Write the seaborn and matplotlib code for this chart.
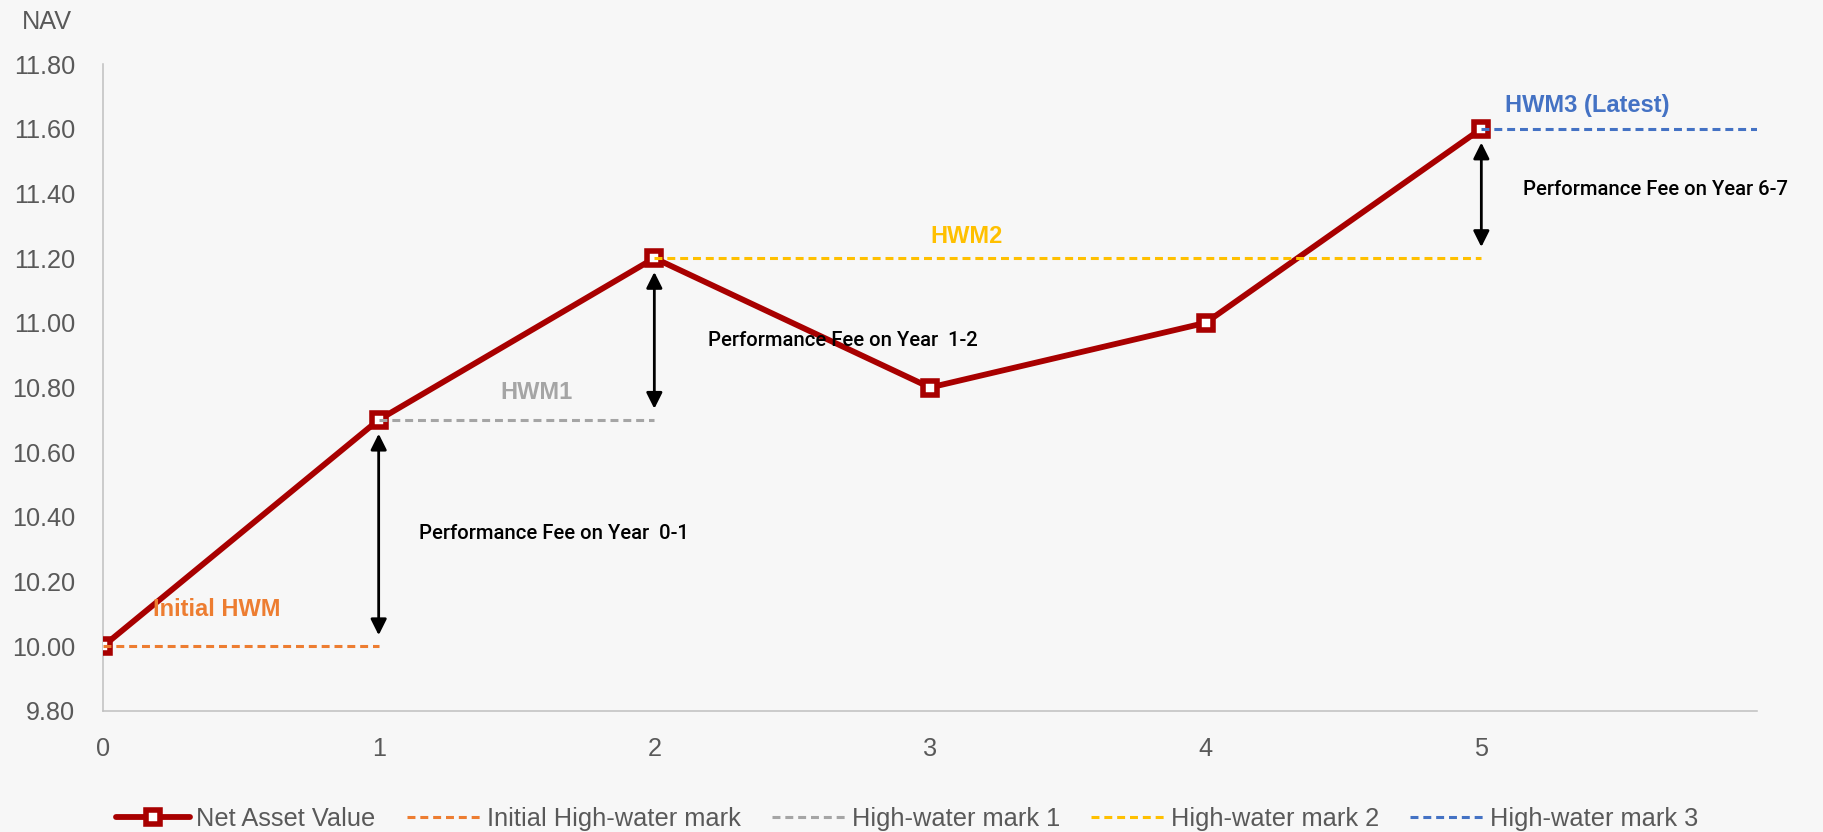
import numpy as np
import pandas as pd
import matplotlib
matplotlib.use("Agg")
import matplotlib.pyplot as plt
import seaborn as sns

# ---------------- data ----------------
years = [0, 1, 2, 3, 4, 5]
nav = [10.00, 10.70, 11.20, 10.80, 11.00, 11.60]

hwm_names = ["Initial High-water mark", "High-water mark 1", "High-water mark 2", "High-water mark 3"]
hwm_x = [[0, 1], [1, 2], [2, 5], [5, 6]]
hwm_y = [10.00, 10.70, 11.20, 11.60]
hwm_colors = ["#ED7D31", "#A5A5A5", "#FFC000", "#4472C4"]

hwm_labels = ["Initial HWM", "HWM1", "HWM2", "HWM3 (Latest)"]
hwm_label_pos = [(0.18, 10.115), (1.44, 10.783), (3.0, 11.268), (5.087, 11.673)]

fee_texts = ["Performance Fee on Year  0-1", "Performance Fee on Year  1-2", "Performance Fee on Year 6-7"]
fee_pos = [(1.146, 10.35), (2.194, 10.945), (5.152, 11.412)]
fee_years = [1, 2, 5]
fee_low = [10.00, 10.70, 11.20]
fee_high = [10.70, 11.20, 11.60]

y_ticks = [9.80, 10.00, 10.20, 10.40, 10.60, 10.80, 11.00, 11.20, 11.40, 11.60, 11.80]
x_ticks = [0, 1, 2, 3, 4, 5]

# ---------------- style ----------------
sns.set_style("white")
plt.rcParams["font.family"] = ["Liberation Sans", "DejaVu Sans"]

BG = "#F7F7F7"
TXT = "#595959"
NAVC = "#A80000"

fig = plt.figure(figsize=(18.24, 8.32), dpi=100, facecolor=BG)
ax = fig.add_axes([103 / 1824, 1 - 711 / 832, (1757 - 103) / 1824, (711 - 64) / 832])
ax.set_facecolor("none")

df_nav = pd.DataFrame({"Year": years, "NAV": nav})
sns.lineplot(data=df_nav, x="Year", y="NAV", ax=ax, color=NAVC, lw=4.2,
             marker="s", markersize=9.7, markeredgewidth=4.0,
             markerfacecolor="white", markeredgecolor=NAVC,
             label="Net Asset Value", zorder=3)

for name, xs, yv, c in zip(hwm_names, hwm_x, hwm_y, hwm_colors):
    d = pd.DataFrame({"Year": xs, "NAV": [yv] * len(xs)})
    sns.lineplot(data=d, x="Year", y="NAV", ax=ax, color=c, lw=2.2,
                 linestyle=(0, (2.6, 1.6)), label=name, zorder=4)

# HWM labels
for txt, (x, y), c in zip(hwm_labels, hwm_label_pos, hwm_colors):
    ax.text(x, y, txt, color=c, fontsize=17, fontweight="bold", ha="left", va="center")

# performance fee texts
for txt, (x, y) in zip(fee_texts, fee_pos):
    ax.text(x, y, txt, color="black", fontsize=14.6, ha="left", va="center",
            family=["Roboto", "Liberation Sans", "DejaVu Sans"], fontweight="medium")

# arrows
for x, lo, hi in zip(fee_years, fee_low, fee_high):
    ax.annotate("", xy=(x, hi), xytext=(x, lo),
                arrowprops=dict(arrowstyle="<|-|>", color="black", lw=2,
                                mutation_scale=24, shrinkA=8, shrinkB=10))

# axes
ax.set_xlim(0, 6)
ax.set_ylim(9.8, 11.8)
ax.set_xticks(x_ticks)
ax.set_xticklabels([str(v) for v in x_ticks])
ax.set_yticks(y_ticks)
ax.set_yticklabels([f"{v:.2f}" for v in y_ticks])
ax.tick_params(axis="both", length=0, labelsize=18.2, labelcolor=TXT)
ax.tick_params(axis="y", pad=20)
ax.tick_params(axis="x", pad=19)
ax.set_xlabel("")
ax.set_ylabel("")
for s in ["top", "right"]:
    ax.spines[s].set_visible(False)
for s in ["left", "bottom"]:
    ax.spines[s].set_color("#BFBFBF")
    ax.spines[s].set_linewidth(1.1)

fig.text(72 / 1824, 1 - 22 / 832, "NAV", ha="right", va="center", fontsize=18.2, color=TXT)

handles, labels = ax.get_legend_handles_labels()
ax.get_legend().remove()
fig.legend(handles, labels, loc="center", bbox_to_anchor=(0.4975, 1 - 819 / 832), ncol=5,
           frameon=False, fontsize=18.3, handlelength=2.9, handletextpad=0.25,
           columnspacing=1.22, labelcolor=TXT)

fig.savefig("out.png", dpi=100, facecolor=BG)
